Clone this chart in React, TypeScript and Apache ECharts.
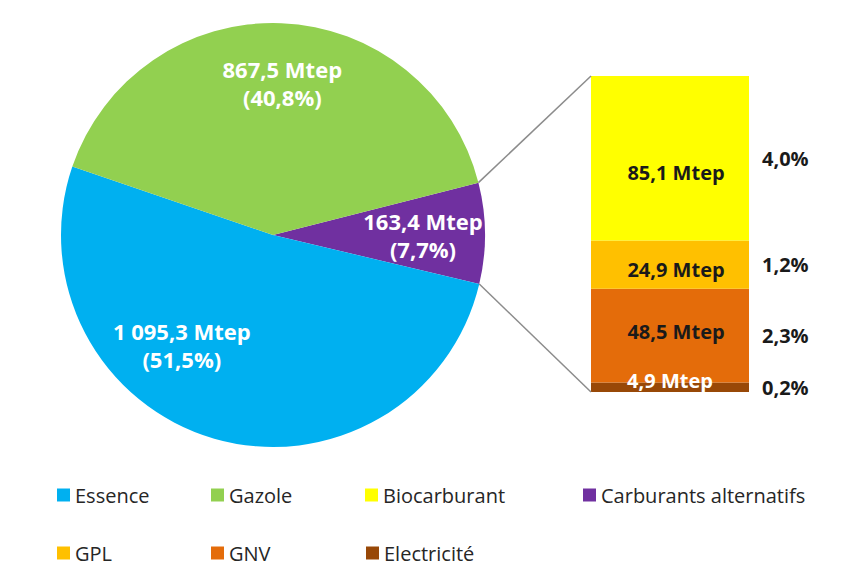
import React, { useEffect, useRef } from "react";
import * as echarts from "echarts";

// Pie (clockwise from the top edge of the purple slice)
const pieNames = ["Carburants alternatifs", "Essence", "Gazole"];
const pieValues = [163.4, 1095.3, 867.5];
const pieColors = ["#7030A0", "#00B0F0", "#92D050"];

// Breakdown of "Carburants alternatifs" (stacked bar, bottom to top)
const subNames = ["Electricité", "GNV", "GPL", "Biocarburant"];
const subValues = [4.9, 48.5, 24.9, 85.1];
const subColors = ["#984807", "#E46C0A", "#FFC000", "#FFFF00"];
const subLabelColors = ["#ffffff", "#1a1a1a", "#1a1a1a", "#1a1a1a"];

const legendRows = [
  ["Essence", "Gazole", "Biocarburant", "Carburants alternatifs"],
  ["GPL", "GNV", "Electricité"],
];

// layout / style constants
const CX = 273;
const CY = 235;
const R = 212;
const START_ANGLE = 14.3;
const GRID = { left: 591, top: 76, width: 158, height: 316 };
const PIE_LABEL_OFFSETS = [
  [41, 1],
  [-61, 5],
  [5, -43],
];
const SUB_LABEL_OFFSETS = [
  [0, -7],
  [6, -4],
  [6, 5],
  [6, 14],
];
const LEGEND_LEFTS = [
  [52, 206, 360, 578],
  [52, 206, 361],
];
const LEGEND_TOPS = [480, 538];
const FONT = "'Open Sans', 'Noto Sans', sans-serif";

const fmtNum = (v: number) => {
  const [i, d] = v.toFixed(1).split(".");
  const withSep = i.replace(/\B(?=(\d{3})+(?!\d))/g, " ");
  return `${withSep},${d}`;
};

export default function App() {
  const ref = useRef<HTMLDivElement>(null);

  useEffect(() => {
    if (!ref.current) return;
    const chart = echarts.init(ref.current, null, { renderer: "svg" });
    const pieTotal = pieValues.reduce((a, b) => a + b, 0);
    const subTotal = subValues.reduce((a, b) => a + b, 0);

    const legends: any[] = [];
    legendRows.forEach((row, ri) => {
      row.forEach((name, ci) => {
        legends.push({
          data: [name],
          left: LEGEND_LEFTS[ri][ci],
          top: LEGEND_TOPS[ri],
          icon: "rect",
          itemWidth: 13,
          itemHeight: 13,
          itemGap: 7,
          selectedMode: false,
          textStyle: { fontSize: 20, color: "#262626", fontFamily: FONT },
        });
      });
    });

    const series: any[] = [
      {
        type: "pie",
        center: [CX, CY],
        radius: R,
        startAngle: START_ANGLE,
        clockwise: true,
        avoidLabelOverlap: false,
        data: pieNames.map((n, i) => ({
          name: n,
          value: pieValues[i],
          itemStyle: { color: pieColors[i] },
        })),
        label: {
          show: true,
          position: "inside",
          color: "#ffffff",
          fontFamily: FONT,
          fontWeight: "bold",
          fontSize: 22,
          lineHeight: 28,
          formatter: (p: any) =>
            `${fmtNum(p.value)} Mtep\n(${fmtNum((p.value / pieTotal) * 100)}%)`,
        },
        labelLayout: (p: any) => ({
          dx: PIE_LABEL_OFFSETS[p.dataIndex][0],
          dy: PIE_LABEL_OFFSETS[p.dataIndex][1],
        }),
        labelLine: { show: false },
        itemStyle: { borderWidth: 0 },
      },
    ];

    subNames.forEach((n, i) => {
      series.push({
        type: "bar",
        name: n,
        stack: "sub",
        barWidth: "100%",
        barGap: "-100%",
        itemStyle: { color: subColors[i] },
        data: [
          {
            value: subValues[i],
            label: { offset: SUB_LABEL_OFFSETS[i] },
          },
        ],
        label: {
          show: true,
          position: "inside",
          color: subLabelColors[i],
          fontFamily: FONT,
          fontWeight: "bold",
          fontSize: 20,
          formatter: (p: any) => `${fmtNum(p.value)} Mtep`,
        },
      });
    });
    subNames.forEach((n, i) => {
      series.push({
        type: "bar",
        name: `pct-${n}`,
        stack: "pct",
        barWidth: "100%",
        barGap: "-100%",
        itemStyle: { color: "rgba(0,0,0,0)" },
        data: [subValues[i]],
        z: 1,
        label: {
          show: true,
          position: "right",
          distance: 13,
          color: "#1a1a1a",
          fontFamily: FONT,
          fontWeight: "bold",
          fontSize: 20,
          formatter: (p: any) => `${fmtNum((p.value / pieTotal) * 100)}%`,
        },
      });
    });

    // connector lines from purple slice edges to the bar's corners
    const sweep = (pieValues[0] / pieTotal) * 360;
    const a1 = (START_ANGLE * Math.PI) / 180;
    const a2 = ((START_ANGLE - sweep) * Math.PI) / 180;
    const yTop = GRID.top;
    const yBot = GRID.top + GRID.height;
    const xBar = GRID.left;

    chart.setOption({
      animation: false,
      backgroundColor: "#ffffff",
      legend: legends,
      grid: { ...GRID, containLabel: false },
      xAxis: { type: "category", data: ["Carburants alternatifs"], show: false },
      yAxis: { type: "value", min: 0, max: subTotal, show: false },
      series,
      graphic: [
        {
          type: "line",
          shape: { x1: CX + R * Math.cos(a1), y1: CY - R * Math.sin(a1), x2: xBar, y2: yTop },
          style: { stroke: "#8c8c8c", lineWidth: 1.5 },
          z: 10,
        },
        {
          type: "line",
          shape: { x1: CX + R * Math.cos(a2), y1: CY - R * Math.sin(a2), x2: xBar, y2: yBot },
          style: { stroke: "#8c8c8c", lineWidth: 1.5 },
          z: 10,
        },
      ],
    });

    return () => chart.dispose();
  }, []);

  return (
    <div
      ref={ref}
      style={{ position: "fixed", left: 0, top: 0, width: 856, height: 575, background: "#fff" }}
    />
  );
}
